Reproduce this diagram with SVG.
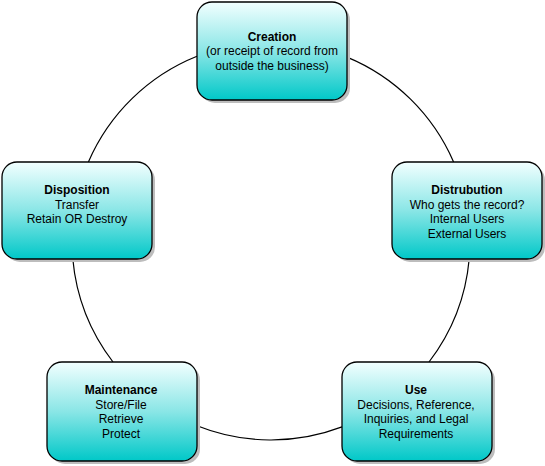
<svg xmlns="http://www.w3.org/2000/svg" width="545" height="466" viewBox="0 0 545 466">
<defs>
<linearGradient id="g" x1="0" y1="0" x2="0" y2="1">
<stop offset="0" stop-color="#f2ffff"/>
<stop offset="0.5" stop-color="#8ae6e6"/>
<stop offset="1" stop-color="#00c8c8"/>
</linearGradient>
</defs>
<style>
.sh{fill:#bdbdbd}
.bx{fill:url(#g);stroke:#000;stroke-width:1.3}
.t{font-family:"Liberation Sans",Arial,sans-serif;font-size:12px;fill:#000;text-anchor:middle}
.b{font-weight:bold}
.c{fill:none;stroke:#000;stroke-width:1.2}
</style>
<rect width="545" height="466" fill="#fff"/>
<g id="connectors">
<path class="c" d="M347,57.1 A199,199 0 0 1 453.6,162"/>
<path class="c" d="M469.2,259 A199,199 0 0 1 429,362"/>
<path class="c" d="M342,426.9 A199,199 0 0 1 197,425.7"/>
<path class="c" d="M113,362 A199,199 0 0 1 72.8,259"/>
<path class="c" d="M88.4,162 A199,199 0 0 1 197,56.3"/>
</g>
<g id="creation">
<rect class="sh" x="200" y="5" width="150" height="98" rx="15"/>
<rect class="bx" x="197" y="2" width="150" height="98" rx="15"/>
<text class="t" x="272"><tspan class="b" x="272" y="40.5">Creation</tspan><tspan x="272" y="55">(or receipt of record from</tspan><tspan x="272" y="69.5">outside the business)</tspan></text>
</g>
<g id="distribution">
<rect class="sh" x="395" y="165" width="150" height="97" rx="15"/>
<rect class="bx" x="392" y="162" width="150" height="97" rx="15"/>
<text class="t"><tspan class="b" x="467" y="194">Distrubution</tspan><tspan x="467" y="208.5">Who gets the record?</tspan><tspan x="467" y="223">Internal Users</tspan><tspan x="467" y="237.5">External Users</tspan></text>
</g>
<g id="use">
<rect class="sh" x="345" y="365" width="150" height="99" rx="15"/>
<rect class="bx" x="342" y="362" width="150" height="99" rx="15"/>
<text class="t"><tspan class="b" x="416" y="394">Use</tspan><tspan x="416" y="408.5">Decisions, Reference,</tspan><tspan x="416" y="423">Inquiries, and Legal</tspan><tspan x="416" y="437.5">Requirements</tspan></text>
</g>
<g id="maintenance">
<rect class="sh" x="50" y="365" width="150" height="99" rx="15"/>
<rect class="bx" x="47" y="362" width="150" height="99" rx="15"/>
<text class="t"><tspan class="b" x="121" y="394">Maintenance</tspan><tspan x="121" y="408.5">Store/File</tspan><tspan x="121" y="423">Retrieve</tspan><tspan x="121" y="437.5">Protect</tspan></text>
</g>
<g id="disposition">
<rect class="sh" x="5" y="165" width="150" height="97" rx="15"/>
<rect class="bx" x="2" y="162" width="150" height="97" rx="15"/>
<text class="t"><tspan class="b" x="77" y="194">Disposition</tspan><tspan x="77" y="208.5">Transfer</tspan><tspan x="77" y="223">Retain OR Destroy</tspan></text>
</g>
</svg>
